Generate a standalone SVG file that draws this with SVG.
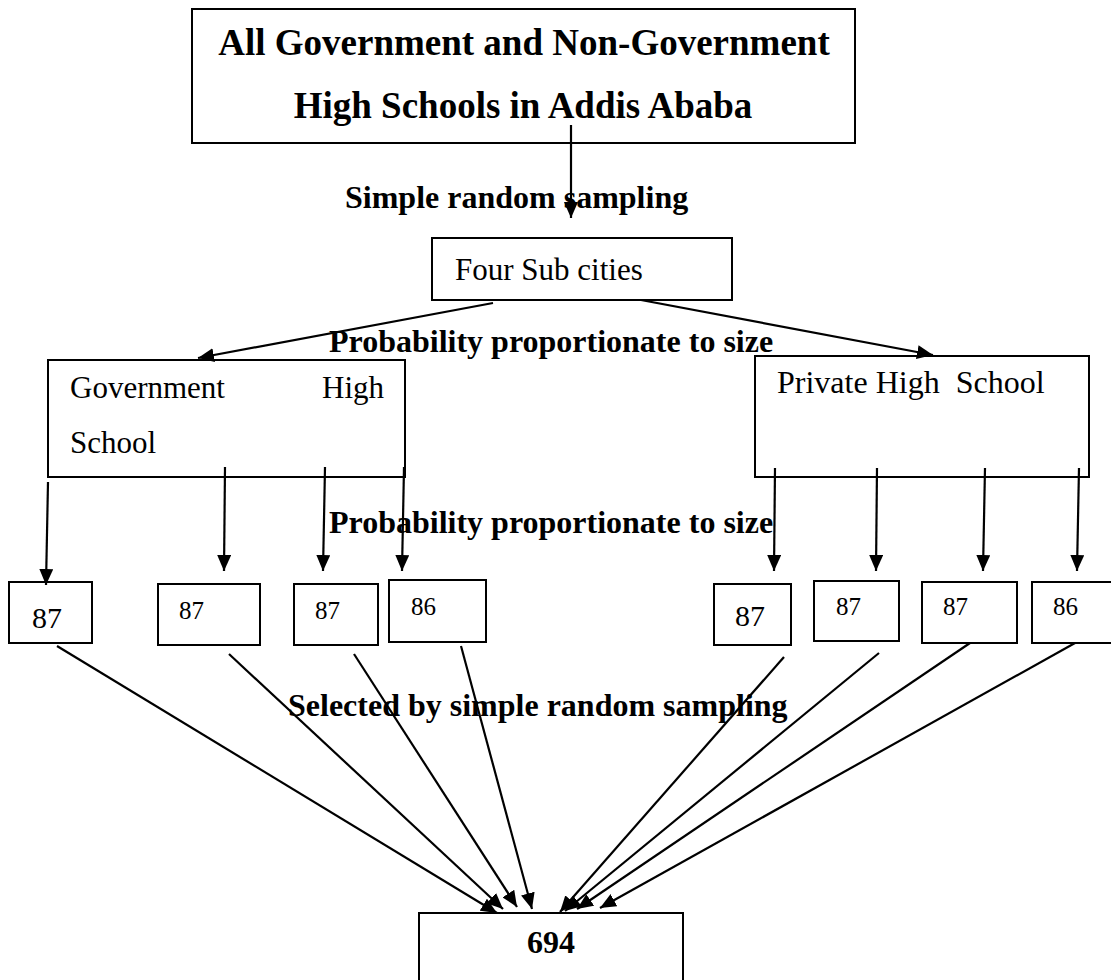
<svg xmlns="http://www.w3.org/2000/svg" width="1111" height="980" viewBox="0 0 1111 980">
<style>
.box{fill:#fff;stroke:#000;stroke-width:2}
.t{font-family:"Liberation Serif","Times New Roman",serif;fill:#000}
.b{font-weight:bold}
.c{stroke:#000;stroke-width:2.2;fill:none;marker-end:url(#ah)}
</style>
<defs>
<marker id="ah" markerUnits="userSpaceOnUse" markerWidth="16" markerHeight="14" refX="16" refY="7" orient="auto">
<path d="M0,0 L16,7 L0,14 z" fill="#000"/>
</marker>
</defs>
<rect width="1111" height="980" fill="#fff"/>

<g id="top">
<rect class="box" x="192" y="9" width="663" height="134"/>
<text class="t b" x="524" y="55" font-size="37" text-anchor="middle">All Government and Non-Government</text>
<text class="t b" x="523" y="118" font-size="37" text-anchor="middle">High Schools in Addis Ababa</text>
</g>

<g id="subcities">
<rect class="box" x="432" y="238" width="300" height="62"/>
<text class="t" x="455" y="280" font-size="31">Four Sub cities</text>
</g>

<g id="gov">
<rect class="box" x="48" y="360" width="357" height="117"/>
<text class="t" x="70" y="398" font-size="31">Government</text>
<text class="t" x="322" y="398" font-size="31">High</text>
<text class="t" x="70" y="453" font-size="31">School</text>
</g>

<g id="private">
<rect class="box" x="755" y="356" width="334" height="121"/>
<text class="t" x="777" y="393" font-size="32" xml:space="preserve">Private High  School</text>
</g>

<g id="g1"><rect class="box" x="9" y="582" width="83" height="61"/><text class="t" x="32" y="628" font-size="30">87</text></g>
<g id="g2"><rect class="box" x="158" y="584" width="102" height="61"/><text class="t" x="179" y="619" font-size="25">87</text></g>
<g id="g3"><rect class="box" x="294" y="584" width="84" height="61"/><text class="t" x="315" y="619" font-size="25">87</text></g>
<g id="g4"><rect class="box" x="389" y="580" width="97" height="62"/><text class="t" x="411" y="615" font-size="25">86</text></g>
<g id="p1"><rect class="box" x="714" y="584" width="77" height="61"/><text class="t" x="735" y="626" font-size="30">87</text></g>
<g id="p2"><rect class="box" x="814" y="581" width="85" height="60"/><text class="t" x="836" y="615" font-size="25">87</text></g>
<g id="p3"><rect class="box" x="922" y="582" width="95" height="61"/><text class="t" x="943" y="615" font-size="25">87</text></g>
<g id="p4"><rect class="box" x="1032" y="582" width="85" height="61"/><text class="t" x="1053" y="615" font-size="25">86</text></g>

<g id="total">
<rect class="box" x="419" y="913" width="264" height="80"/>
<text class="t b" x="551" y="953" font-size="32" text-anchor="middle">694</text>
</g>

<g id="labels">
<text class="t b" x="345" y="208" font-size="32">Simple random sampling</text>
<text class="t b" x="329" y="352" font-size="32">Probability proportionate to size</text>
<text class="t b" x="329" y="533" font-size="32">Probability proportionate to size</text>
<text class="t b" x="288" y="716" font-size="32">Selected by simple random sampling</text>
</g>

<g id="connectors">
<line class="c" x1="571" y1="125" x2="571" y2="218"/>
<line class="c" x1="493" y1="303" x2="198" y2="358"/>
<line class="c" x1="641" y1="300" x2="933" y2="355"/>
<line class="c" x1="48" y1="482" x2="46" y2="585"/>
<line class="c" x1="225" y1="467" x2="224" y2="571"/>
<line class="c" x1="325" y1="467" x2="323" y2="571"/>
<line class="c" x1="404" y1="467" x2="402" y2="571"/>
<line class="c" x1="775" y1="468" x2="774" y2="571"/>
<line class="c" x1="877" y1="468" x2="876" y2="571"/>
<line class="c" x1="985" y1="468" x2="983" y2="571"/>
<line class="c" x1="1079" y1="468" x2="1077" y2="571"/>
<line class="c" x1="57" y1="646" x2="497" y2="913"/>
<line class="c" x1="229" y1="654" x2="503" y2="909"/>
<line class="c" x1="354" y1="654" x2="517" y2="907"/>
<line class="c" x1="461" y1="646" x2="532" y2="909"/>
<line class="c" x1="784" y1="657" x2="560" y2="912"/>
<line class="c" x1="879" y1="653" x2="565" y2="911"/>
<line class="c" x1="970" y1="643" x2="577" y2="909"/>
<line class="c" x1="1075" y1="643" x2="600" y2="908"/>
</g>
</svg>
